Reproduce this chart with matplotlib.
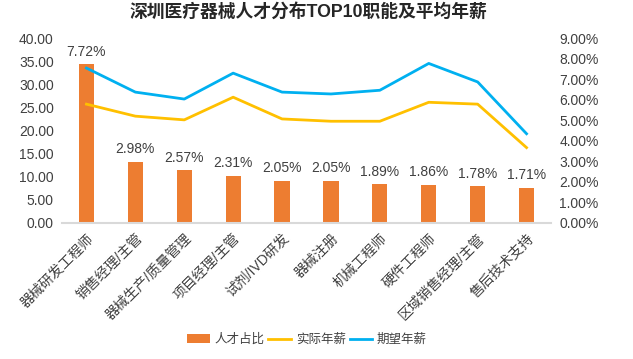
import numpy as np
import matplotlib.pyplot as plt
from matplotlib.ticker import FuncFormatter

plt.rcParams['font.family'] = ['Liberation Sans', 'Noto Sans CJK SC', 'DejaVu Sans']

categories = ['器械研发工程师', '销售经理/主管', '器械生产/质量管理', '项目经理/主管',
              '试剂/IVD研发', '器械注册', '机械工程师', '硬件工程师',
              '区域销售经理/主管', '售后技术支持']
share_pct = [7.72, 2.98, 2.57, 2.31, 2.05, 2.05, 1.89, 1.86, 1.78, 1.71]
actual_salary = [25.7, 23.1, 22.3, 27.2, 22.5, 22.0, 22.0, 26.1, 25.7, 16.3]
expected_salary = [33.5, 28.3, 26.8, 32.4, 28.3, 27.9, 28.7, 34.5, 30.5, 19.3]

C_BAR = '#ED7D31'
C_ACT = '#FFC000'
C_EXP = '#00B0F0'
C_TXT = '#404040'

fig = plt.figure(figsize=(6.33, 3.59), dpi=100)
ax = fig.add_axes([62 / 633, 1 - 223 / 359, 489 / 633, 185 / 359])
ax2 = ax.twinx()
# lines (left axis) drawn above the bars (right axis)
ax.set_zorder(ax2.get_zorder() + 1)
ax.patch.set_visible(False)

x = np.arange(len(categories))
bars = ax2.bar(x, share_pct, width=0.31, color=C_BAR, label='人才占比')
for xi, v in zip(x, share_pct):
    ax2.annotate(f'{v:.2f}%', (xi, v), xytext=(0, 4), textcoords='offset points',
                 ha='center', va='bottom', fontsize=10, color=C_TXT)

l1, = ax.plot(x, actual_salary, color=C_ACT, lw=2, label='实际年薪')
l2, = ax.plot(x, expected_salary, color=C_EXP, lw=2, label='期望年薪')

ax.set_xlim(-0.5, 9.5)
ax.set_ylim(0, 40)
ax.set_yticks(np.arange(0, 41, 5))
ax.yaxis.set_major_formatter(FuncFormatter(lambda v, p: f'{v:.2f}'))
ax2.set_ylim(0, 9)
ax2.set_yticks(np.arange(0, 10, 1))
ax2.yaxis.set_major_formatter(FuncFormatter(lambda v, p: f'{v:.2f}%'))

ax.set_xticks(x)
ax.set_xticklabels(categories, rotation=45, ha='right', rotation_mode='anchor',
                   fontsize=9, color=C_TXT)
for a in (ax, ax2):
    for s in a.spines.values():
        s.set_visible(False)
    a.tick_params(length=0, labelsize=10, colors=C_TXT)
ax.spines['bottom'].set_visible(True)
ax.spines['bottom'].set_color('#D9D9D9')
ax.spines['bottom'].set_linewidth(1.5)
ax.tick_params(axis='x', pad=6)
ax.tick_params(axis='y', pad=6)
ax2.tick_params(axis='y', pad=6)

fig.text(308 / 633, 1 - 12 / 359, '深圳医疗器械人才分布TOP10职能及平均年薪', ha='center', va='center',
         fontsize=12.8, fontweight='bold', color='#262626')

fig.legend([bars, l1, l2], ['人才占比', '实际年薪', '期望年薪'], loc='center',
           bbox_to_anchor=(307 / 633, 1 - 340 / 359), ncol=3, frameon=False,
           fontsize=9, handlelength=1.8, handletextpad=0.4, columnspacing=0.3,
           labelcolor=C_TXT)

fig.savefig('out.png', dpi=100)
